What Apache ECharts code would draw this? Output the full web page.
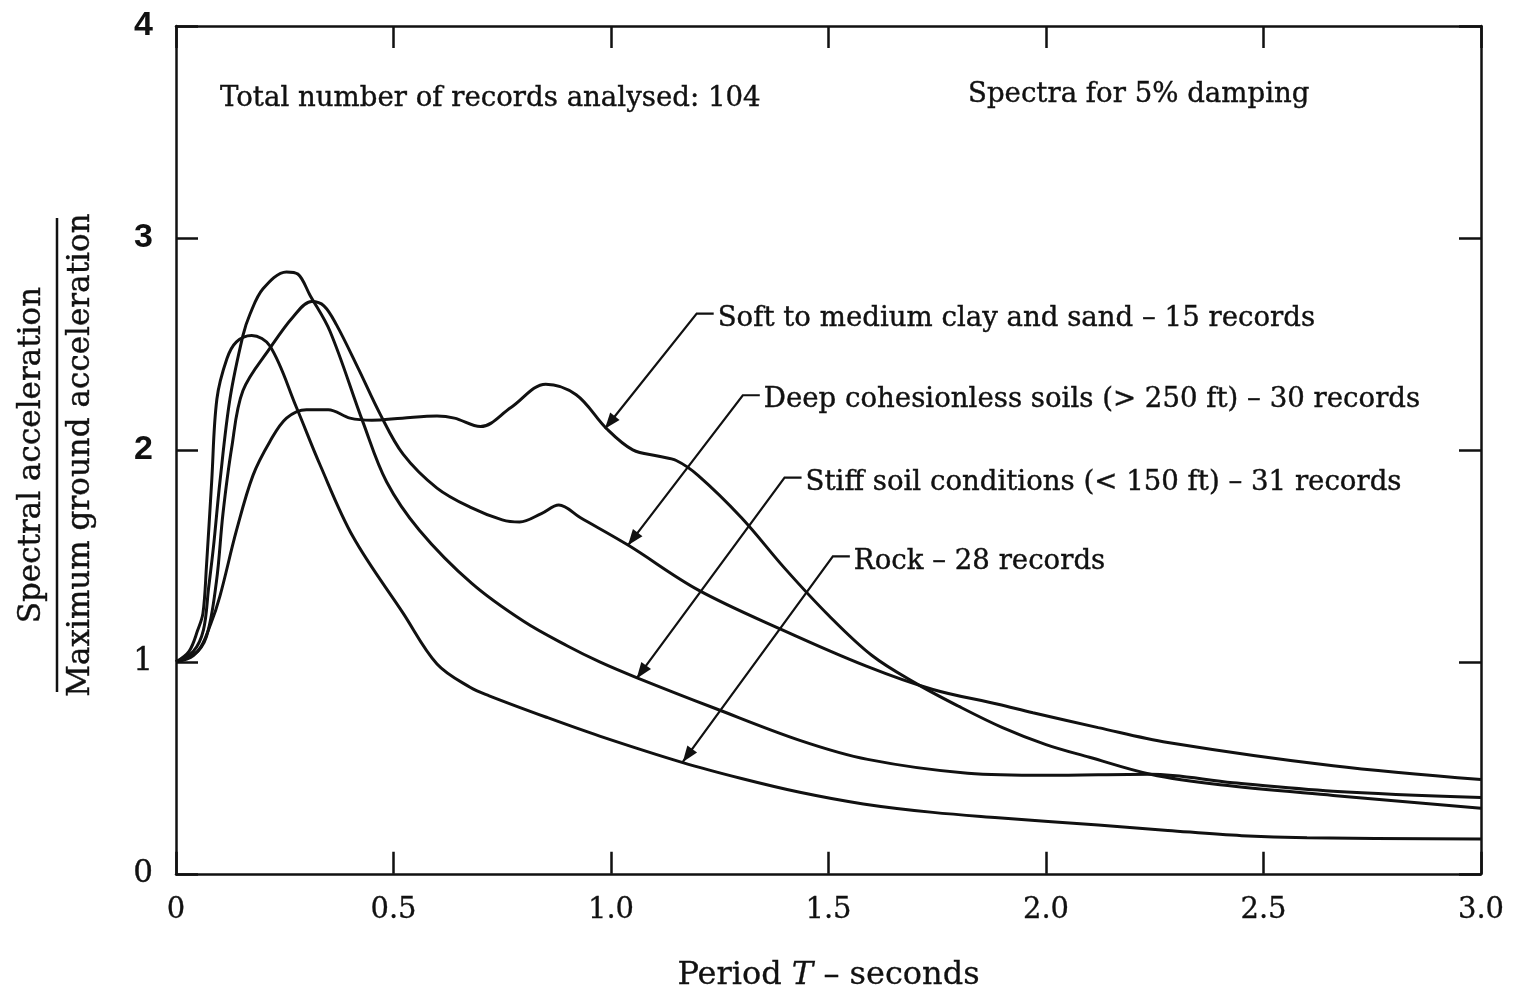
<!DOCTYPE html>
<html><head><meta charset="utf-8">
<script src="https://cdn.jsdelivr.net/npm/echarts@6/dist/echarts.min.js"></script>
<style>html,body{margin:0;padding:0;background:#fff}#c{width:1514px;height:997px}</style>
</head><body><div id="c"></div>
<script>
// ---- tick values ----
const xTicks = [0, 0.5, 1.0, 1.5, 2.0, 2.5, 3.0];
const yTicks = [0, 1, 2, 3, 4];
const yBoldTicks = [2, 3, 4];

// ---- series (period T in s, normalised spectral acceleration) ----
const softT  = [0, 0.05, 0.08, 0.101, 0.139, 0.177, 0.216, 0.254, 0.30, 0.35, 0.40, 0.45, 0.52, 0.60, 0.64, 0.70, 0.77, 0.85, 0.92, 0.99, 1.05, 1.11, 1.15, 1.20, 1.30, 1.40, 1.50, 1.60, 1.70, 1.80, 1.90, 2.00, 2.10, 2.24, 2.40, 2.66, 3.00];
const softSa = [1.00, 1.05, 1.18, 1.31, 1.62, 1.88, 2.04, 2.15, 2.19, 2.19, 2.15, 2.14, 2.15, 2.16, 2.15, 2.11, 2.20, 2.31, 2.26, 2.10, 2.00, 1.97, 1.95, 1.88, 1.68, 1.44, 1.22, 1.03, 0.90, 0.79, 0.69, 0.61, 0.55, 0.47, 0.42, 0.37, 0.31];

const deepT  = [0, 0.04, 0.07, 0.093, 0.108, 0.128, 0.154, 0.216, 0.27, 0.312, 0.34, 0.369, 0.42, 0.469, 0.522, 0.60, 0.676, 0.75, 0.79, 0.84, 0.88, 0.93, 1.04, 1.20, 1.395, 1.587, 1.74, 1.89, 1.97, 2.12, 2.28, 2.66, 3.00];
const deepSa = [1.00, 1.03, 1.12, 1.38, 1.70, 2.01, 2.28, 2.48, 2.63, 2.70, 2.68, 2.59, 2.38, 2.17, 1.98, 1.82, 1.73, 1.67, 1.66, 1.70, 1.74, 1.68, 1.55, 1.34, 1.15, 0.98, 0.87, 0.80, 0.76, 0.69, 0.62, 0.51, 0.445];

const stiffT  = [0, 0.04, 0.063, 0.075, 0.086, 0.101, 0.124, 0.154, 0.17, 0.20, 0.254, 0.28, 0.308, 0.354, 0.43, 0.484, 0.56, 0.68, 0.80, 0.90, 0.974, 1.06, 1.24, 1.434, 1.59, 1.82, 2.00, 2.24, 2.43, 2.66, 3.00];
const stiffSa = [1.00, 1.05, 1.15, 1.35, 1.54, 1.85, 2.24, 2.54, 2.64, 2.76, 2.84, 2.83, 2.73, 2.56, 2.13, 1.85, 1.62, 1.37, 1.19, 1.075, 1.00, 0.925, 0.78, 0.63, 0.54, 0.475, 0.465, 0.47, 0.43, 0.39, 0.36];

const rockT  = [0, 0.03, 0.05, 0.062, 0.07, 0.082, 0.094, 0.117, 0.139, 0.174, 0.216, 0.277, 0.331, 0.407, 0.522, 0.60, 0.676, 0.72, 0.85, 0.974, 1.165, 1.30, 1.434, 1.58, 1.74, 1.89, 2.12, 2.28, 2.45, 2.60, 3.00];
const rockSa = [1.00, 1.05, 1.15, 1.23, 1.45, 1.85, 2.24, 2.43, 2.51, 2.54, 2.49, 2.20, 1.93, 1.59, 1.23, 0.99, 0.88, 0.84, 0.74, 0.65, 0.525, 0.45, 0.385, 0.33, 0.29, 0.265, 0.23, 0.205, 0.18, 0.17, 0.165];

// ---- annotation texts ----
const seriesLabels = [
  'Soft to medium clay and sand \u2013 15 records',
  'Deep cohesionless soils (> 250 ft) \u2013 30 records',
  'Stiff soil conditions (< 150 ft) \u2013 31 records',
  'Rock \u2013 28 records'
];
// leader corner (T, Sa) and arrow tip (T, Sa) for each label
const leaderCornerT  = [1.197, 1.303, 1.399, 1.510];
const leaderCornerSa = [2.643, 2.258, 1.869, 1.498];
const arrowTipT  = [0.986, 1.039, 1.059, 1.165];
const arrowTipSa = [2.100, 1.550, 0.922, 0.528];

const noteLeft  = 'Total number of records analysed: 104';
const noteRight = 'Spectra for 5% damping';
const yNameTop = 'Spectral acceleration';
const yNameBottom = 'Maximum ground acceleration';

const FONT = '"DejaVu Serif", "Liberation Serif", serif';
const SANS = '"Liberation Sans", "DejaVu Sans", sans-serif';
const INK = '#111';

function pairs(t, v) { return t.map((x, i) => [x, v[i]]); }

const chart = echarts.init(document.getElementById('c'), null, {renderer: 'canvas'});

const lineStyle = {color: INK, width: 3};
function mkSeries(name, t, v) {
  return {
    name, type: 'line', data: pairs(t, v), smooth: 0.35, showSymbol: false,
    symbol: 'none', lineStyle, silent: true, animation: false, z: 3
  };
}

function axisBase() {
  return {
    type: 'value', min: 0,
    axisLine: {show: true, onZero: false, lineStyle: {color: INK, width: 2.5}},
    axisTick: {show: true, inside: true, length: 22, lineStyle: {color: INK, width: 2.5}},
    splitLine: {show: false}
  };
}

chart.setOption({
  animation: false,
  backgroundColor: '#fff',
  grid: {left: 176, right: 33, top: 26, bottom: 119, containLabel: false},
  xAxis: [
    Object.assign(axisBase(), {
      position: 'bottom', max: 3.0, interval: 0.5,
      axisLabel: {
        color: INK, fontFamily: FONT, fontSize: 29, margin: 22,
        textBorderColor: INK, textBorderWidth: 0.3,
        formatter: v => (xTicks.indexOf(v) >= 0 ? (v === 0 ? '0' : v.toFixed(1)) : '')
      },
      name: '{n|Period }{i|T}{n| \u2013 seconds}', nameLocation: 'middle', nameGap: 86,
      nameTextStyle: {
        rich: {
          n: {fontFamily: FONT, fontSize: 32, color: INK, textBorderColor: INK, textBorderWidth: 0.3},
          i: {fontFamily: FONT, fontSize: 32, color: INK, fontStyle: 'italic', textBorderColor: INK, textBorderWidth: 0.3}
        }
      }
    }),
    Object.assign(axisBase(), {
      position: 'top', max: 3.0, interval: 0.5, axisLabel: {show: false}
    })
  ],
  yAxis: [
    Object.assign(axisBase(), {
      position: 'left', max: 4, interval: 1,
      axisLabel: {
        color: INK, margin: 23,
        formatter: v => (yTicks.indexOf(v) < 0 ? '' :
          (yBoldTicks.indexOf(v) >= 0 ? '{b|' + v + '}' : '{r|' + v + '}')),
        rich: {
          b: {fontFamily: SANS, fontSize: 34, fontWeight: 'bold', color: INK},
          r: {fontFamily: FONT, fontSize: 31, color: INK, textBorderColor: INK, textBorderWidth: 0.4}
        }
      }
    }),
    Object.assign(axisBase(), {
      position: 'right', max: 4, interval: 1, axisLabel: {show: false}
    })
  ],
  series: [
    mkSeries('soft', softT, softSa),
    mkSeries('deep', deepT, deepSa),
    mkSeries('stiff', stiffT, stiffSa),
    mkSeries('rock', rockT, rockSa)
  ]
});

// ---- annotations built from the grid's own scale ----
const g = [];
const textStyleBase = {fill: INK, fontFamily: FONT, fontSize: 27.6, verticalAlign: 'middle',
  stroke: INK, lineWidth: 0.4};

g.push({type: 'text', x: 220, y: 99, style: Object.assign({text: noteLeft}, textStyleBase), z: 10});
g.push({type: 'text', x: 968, y: 95, style: Object.assign({text: noteRight}, textStyleBase), z: 10});

// y-axis fraction title
g.push({type: 'text', x: 32, y: 455, rotation: Math.PI / 2,
  style: Object.assign({}, textStyleBase, {text: yNameTop, align: 'center', fontSize: 31}), z: 10});
g.push({type: 'line', shape: {x1: 57, y1: 218, x2: 57, y2: 692}, style: {stroke: INK, lineWidth: 2.5}, z: 10});
g.push({type: 'text', x: 81, y: 455, rotation: Math.PI / 2,
  style: Object.assign({}, textStyleBase, {text: yNameBottom, align: 'center', fontSize: 31}), z: 10});

for (let i = 0; i < seriesLabels.length; i++) {
  const c = chart.convertToPixel({gridIndex: 0}, [leaderCornerT[i], leaderCornerSa[i]]);
  const tip = chart.convertToPixel({gridIndex: 0}, [arrowTipT[i], arrowTipSa[i]]);
  const start = [c[0] + 17, c[1]];
  g.push({type: 'polyline', shape: {points: [start, c, tip]}, style: {stroke: INK, lineWidth: 2.2, fill: null}, z: 10});
  // arrowhead
  const dx = tip[0] - c[0], dy = tip[1] - c[1];
  const len = Math.hypot(dx, dy), ux = dx / len, uy = dy / len;
  const L = 16, W = 6;
  const bx = tip[0] - ux * L, by = tip[1] - uy * L;
  g.push({type: 'polygon', shape: {points: [tip, [bx - uy * W, by + ux * W], [bx + uy * W, by - ux * W]]},
    style: {fill: INK}, z: 11});
  g.push({type: 'text', x: start[0] + 4, y: c[1] + 5,
    style: Object.assign({text: seriesLabels[i]}, textStyleBase), z: 10});
}
chart.setOption({graphic: g});
</script></body></html>
